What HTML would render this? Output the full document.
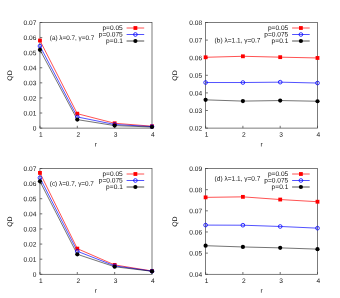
<!DOCTYPE html>
<html><head><meta charset="utf-8"><title>QD vs r</title>
<style>
html,body{margin:0;padding:0;background:#fff;}
svg{display:block;}
text{text-rendering:geometricPrecision;font-family:"Liberation Sans",sans-serif;font-size:6.6px;fill:#111;}
</style></head><body>
<svg width="340" height="298" viewBox="0 0 340 298">
<rect width="340" height="298" fill="#fff"/>
<rect x="39.95" y="22.5" width="112.05" height="105.60" fill="none" stroke="#444" stroke-width="0.7"/>
<path d="M39.95 128.10h2.3" stroke="#444" stroke-width="0.75"/>
<path d="M39.95 113.01h2.3" stroke="#444" stroke-width="0.75"/>
<path d="M39.95 97.93h2.3" stroke="#444" stroke-width="0.75"/>
<path d="M39.95 82.84h2.3" stroke="#444" stroke-width="0.75"/>
<path d="M39.95 67.76h2.3" stroke="#444" stroke-width="0.75"/>
<path d="M39.95 52.67h2.3" stroke="#444" stroke-width="0.75"/>
<path d="M39.95 37.59h2.3" stroke="#444" stroke-width="0.75"/>
<path d="M39.95 22.50h2.3" stroke="#444" stroke-width="0.75"/>
<path d="M39.95 128.1v-2.3" stroke="#444" stroke-width="0.75"/>
<path d="M77.30 128.1v-2.3" stroke="#444" stroke-width="0.75"/>
<path d="M114.65 128.1v-2.3" stroke="#444" stroke-width="0.75"/>
<path d="M152.00 128.1v-2.3" stroke="#444" stroke-width="0.75"/>
<polyline points="39.95,40.53 77.30,113.68 114.65,123.27 152.00,126.20" fill="none" stroke="#ff0000" stroke-width="0.68"/>
<polyline points="39.95,46.03 77.30,116.94 114.65,124.48 152.00,126.59" fill="none" stroke="#0000ff" stroke-width="0.68"/>
<polyline points="39.95,49.81 77.30,119.61 114.65,125.60 152.00,127.00" fill="none" stroke="#000000" stroke-width="0.55"/>
<rect x="38.05" y="38.63" width="3.8" height="3.8" fill="#ff0000"/>
<rect x="75.40" y="111.78" width="3.8" height="3.8" fill="#ff0000"/>
<rect x="112.75" y="121.37" width="3.8" height="3.8" fill="#ff0000"/>
<rect x="150.10" y="124.30" width="3.8" height="3.8" fill="#ff0000"/>
<circle cx="39.95" cy="46.03" r="1.85" fill="none" stroke="#0000ff" stroke-width="0.8"/>
<circle cx="77.30" cy="116.94" r="1.85" fill="none" stroke="#0000ff" stroke-width="0.8"/>
<circle cx="114.65" cy="124.48" r="1.85" fill="none" stroke="#0000ff" stroke-width="0.8"/>
<circle cx="152.00" cy="126.59" r="1.85" fill="none" stroke="#0000ff" stroke-width="0.8"/>
<circle cx="39.95" cy="49.81" r="2.1" fill="#000"/>
<circle cx="77.30" cy="119.61" r="2.1" fill="#000"/>
<circle cx="114.65" cy="125.60" r="2.1" fill="#000"/>
<circle cx="152.00" cy="127.00" r="2.1" fill="#000"/>
<path d="M126.60 28.00H144.20" stroke="#ff0000" stroke-width="0.68"/>
<rect x="133.50" y="26.10" width="3.8" height="3.8" fill="#ff0000"/>
<path d="M126.60 34.50H144.20" stroke="#0000ff" stroke-width="0.68"/>
<circle cx="135.40" cy="34.50" r="1.85" fill="none" stroke="#0000ff" stroke-width="0.8"/>
<path d="M126.60 41.00H144.20" stroke="#000000" stroke-width="0.68"/>
<circle cx="135.40" cy="41.00" r="2.1" fill="#000"/>
<rect x="205.6" y="22.5" width="111.90" height="105.60" fill="none" stroke="#444" stroke-width="0.7"/>
<path d="M205.6 128.10h2.3" stroke="#444" stroke-width="0.75"/>
<path d="M205.6 110.50h2.3" stroke="#444" stroke-width="0.75"/>
<path d="M205.6 92.90h2.3" stroke="#444" stroke-width="0.75"/>
<path d="M205.6 75.30h2.3" stroke="#444" stroke-width="0.75"/>
<path d="M205.6 57.70h2.3" stroke="#444" stroke-width="0.75"/>
<path d="M205.6 40.10h2.3" stroke="#444" stroke-width="0.75"/>
<path d="M205.6 22.50h2.3" stroke="#444" stroke-width="0.75"/>
<path d="M205.60 128.1v-2.3" stroke="#444" stroke-width="0.75"/>
<path d="M242.90 128.1v-2.3" stroke="#444" stroke-width="0.75"/>
<path d="M280.20 128.1v-2.3" stroke="#444" stroke-width="0.75"/>
<path d="M317.50 128.1v-2.3" stroke="#444" stroke-width="0.75"/>
<polyline points="205.60,57.28 242.90,56.29 280.20,57.17 317.50,57.96" fill="none" stroke="#ff0000" stroke-width="0.68"/>
<polyline points="205.60,82.52 242.90,82.52 280.20,82.16 317.50,83.04" fill="none" stroke="#0000ff" stroke-width="0.68"/>
<polyline points="205.60,99.85 242.90,101.10 280.20,100.56 317.50,101.24" fill="none" stroke="#000000" stroke-width="0.55"/>
<rect x="203.70" y="55.38" width="3.8" height="3.8" fill="#ff0000"/>
<rect x="241.00" y="54.39" width="3.8" height="3.8" fill="#ff0000"/>
<rect x="278.30" y="55.27" width="3.8" height="3.8" fill="#ff0000"/>
<rect x="315.60" y="56.06" width="3.8" height="3.8" fill="#ff0000"/>
<circle cx="205.60" cy="82.52" r="1.85" fill="none" stroke="#0000ff" stroke-width="0.8"/>
<circle cx="242.90" cy="82.52" r="1.85" fill="none" stroke="#0000ff" stroke-width="0.8"/>
<circle cx="280.20" cy="82.16" r="1.85" fill="none" stroke="#0000ff" stroke-width="0.8"/>
<circle cx="317.50" cy="83.04" r="1.85" fill="none" stroke="#0000ff" stroke-width="0.8"/>
<circle cx="205.60" cy="99.85" r="2.1" fill="#000"/>
<circle cx="242.90" cy="101.10" r="2.1" fill="#000"/>
<circle cx="280.20" cy="100.56" r="2.1" fill="#000"/>
<circle cx="317.50" cy="101.24" r="2.1" fill="#000"/>
<path d="M292.10 28.00H309.70" stroke="#ff0000" stroke-width="0.68"/>
<rect x="299.00" y="26.10" width="3.8" height="3.8" fill="#ff0000"/>
<path d="M292.10 34.50H309.70" stroke="#0000ff" stroke-width="0.68"/>
<circle cx="300.90" cy="34.50" r="1.85" fill="none" stroke="#0000ff" stroke-width="0.8"/>
<path d="M292.10 41.00H309.70" stroke="#000000" stroke-width="0.68"/>
<circle cx="300.90" cy="41.00" r="2.1" fill="#000"/>
<rect x="39.95" y="168.5" width="112.05" height="105.80" fill="none" stroke="#444" stroke-width="0.7"/>
<path d="M39.95 274.30h2.3" stroke="#444" stroke-width="0.75"/>
<path d="M39.95 259.19h2.3" stroke="#444" stroke-width="0.75"/>
<path d="M39.95 244.07h2.3" stroke="#444" stroke-width="0.75"/>
<path d="M39.95 228.96h2.3" stroke="#444" stroke-width="0.75"/>
<path d="M39.95 213.84h2.3" stroke="#444" stroke-width="0.75"/>
<path d="M39.95 198.73h2.3" stroke="#444" stroke-width="0.75"/>
<path d="M39.95 183.61h2.3" stroke="#444" stroke-width="0.75"/>
<path d="M39.95 168.50h2.3" stroke="#444" stroke-width="0.75"/>
<path d="M39.95 274.3v-2.3" stroke="#444" stroke-width="0.75"/>
<path d="M77.30 274.3v-2.3" stroke="#444" stroke-width="0.75"/>
<path d="M114.65 274.3v-2.3" stroke="#444" stroke-width="0.75"/>
<path d="M152.00 274.3v-2.3" stroke="#444" stroke-width="0.75"/>
<polyline points="39.95,172.88 77.30,248.61 114.65,264.93 152.00,270.97" fill="none" stroke="#ff0000" stroke-width="0.68"/>
<polyline points="39.95,177.78 77.30,251.27 114.65,265.84 152.00,271.13" fill="none" stroke="#0000ff" stroke-width="0.68"/>
<polyline points="39.95,181.35 77.30,254.30 114.65,266.74 152.00,271.31" fill="none" stroke="#000000" stroke-width="0.55"/>
<rect x="38.05" y="170.98" width="3.8" height="3.8" fill="#ff0000"/>
<rect x="75.40" y="246.71" width="3.8" height="3.8" fill="#ff0000"/>
<rect x="112.75" y="263.03" width="3.8" height="3.8" fill="#ff0000"/>
<rect x="150.10" y="269.07" width="3.8" height="3.8" fill="#ff0000"/>
<circle cx="39.95" cy="177.78" r="1.85" fill="none" stroke="#0000ff" stroke-width="0.8"/>
<circle cx="77.30" cy="251.27" r="1.85" fill="none" stroke="#0000ff" stroke-width="0.8"/>
<circle cx="114.65" cy="265.84" r="1.85" fill="none" stroke="#0000ff" stroke-width="0.8"/>
<circle cx="152.00" cy="271.13" r="1.85" fill="none" stroke="#0000ff" stroke-width="0.8"/>
<circle cx="39.95" cy="181.35" r="2.1" fill="#000"/>
<circle cx="77.30" cy="254.30" r="2.1" fill="#000"/>
<circle cx="114.65" cy="266.74" r="2.1" fill="#000"/>
<circle cx="152.00" cy="271.31" r="2.1" fill="#000"/>
<path d="M126.60 174.00H144.20" stroke="#ff0000" stroke-width="0.68"/>
<rect x="133.50" y="172.10" width="3.8" height="3.8" fill="#ff0000"/>
<path d="M126.60 180.50H144.20" stroke="#0000ff" stroke-width="0.68"/>
<circle cx="135.40" cy="180.50" r="1.85" fill="none" stroke="#0000ff" stroke-width="0.8"/>
<path d="M126.60 187.00H144.20" stroke="#000000" stroke-width="0.68"/>
<circle cx="135.40" cy="187.00" r="2.1" fill="#000"/>
<rect x="205.6" y="168.5" width="111.90" height="105.80" fill="none" stroke="#444" stroke-width="0.7"/>
<path d="M205.6 274.30h2.3" stroke="#444" stroke-width="0.75"/>
<path d="M205.6 253.14h2.3" stroke="#444" stroke-width="0.75"/>
<path d="M205.6 231.98h2.3" stroke="#444" stroke-width="0.75"/>
<path d="M205.6 210.82h2.3" stroke="#444" stroke-width="0.75"/>
<path d="M205.6 189.66h2.3" stroke="#444" stroke-width="0.75"/>
<path d="M205.6 168.50h2.3" stroke="#444" stroke-width="0.75"/>
<path d="M205.60 274.3v-2.3" stroke="#444" stroke-width="0.75"/>
<path d="M242.90 274.3v-2.3" stroke="#444" stroke-width="0.75"/>
<path d="M280.20 274.3v-2.3" stroke="#444" stroke-width="0.75"/>
<path d="M317.50 274.3v-2.3" stroke="#444" stroke-width="0.75"/>
<polyline points="205.60,197.36 242.90,196.85 280.20,199.54 317.50,201.72" fill="none" stroke="#ff0000" stroke-width="0.68"/>
<polyline points="205.60,225.10 242.90,225.21 280.20,226.48 317.50,228.17" fill="none" stroke="#0000ff" stroke-width="0.68"/>
<polyline points="205.60,245.69 242.90,246.96 280.20,247.87 317.50,249.14" fill="none" stroke="#000000" stroke-width="0.55"/>
<rect x="203.70" y="195.46" width="3.8" height="3.8" fill="#ff0000"/>
<rect x="241.00" y="194.95" width="3.8" height="3.8" fill="#ff0000"/>
<rect x="278.30" y="197.64" width="3.8" height="3.8" fill="#ff0000"/>
<rect x="315.60" y="199.82" width="3.8" height="3.8" fill="#ff0000"/>
<circle cx="205.60" cy="225.10" r="1.85" fill="none" stroke="#0000ff" stroke-width="0.8"/>
<circle cx="242.90" cy="225.21" r="1.85" fill="none" stroke="#0000ff" stroke-width="0.8"/>
<circle cx="280.20" cy="226.48" r="1.85" fill="none" stroke="#0000ff" stroke-width="0.8"/>
<circle cx="317.50" cy="228.17" r="1.85" fill="none" stroke="#0000ff" stroke-width="0.8"/>
<circle cx="205.60" cy="245.69" r="2.1" fill="#000"/>
<circle cx="242.90" cy="246.96" r="2.1" fill="#000"/>
<circle cx="280.20" cy="247.87" r="2.1" fill="#000"/>
<circle cx="317.50" cy="249.14" r="2.1" fill="#000"/>
<path d="M292.10 174.00H309.70" stroke="#ff0000" stroke-width="0.68"/>
<rect x="299.00" y="172.10" width="3.8" height="3.8" fill="#ff0000"/>
<path d="M292.10 180.50H309.70" stroke="#0000ff" stroke-width="0.68"/>
<circle cx="300.90" cy="180.50" r="1.85" fill="none" stroke="#0000ff" stroke-width="0.8"/>
<path d="M292.10 187.00H309.70" stroke="#000000" stroke-width="0.68"/>
<circle cx="300.90" cy="187.00" r="2.1" fill="#000"/>
<g style="filter:grayscale(1)">
<text x="36.45" y="130.60" text-anchor="end" transform="rotate(0.04 36.45 130.60)">0</text>
<text x="36.45" y="115.51" text-anchor="end" transform="rotate(0.04 36.45 115.51)">0.01</text>
<text x="36.45" y="100.43" text-anchor="end" transform="rotate(0.04 36.45 100.43)">0.02</text>
<text x="36.45" y="85.34" text-anchor="end" transform="rotate(0.04 36.45 85.34)">0.03</text>
<text x="36.45" y="70.26" text-anchor="end" transform="rotate(0.04 36.45 70.26)">0.04</text>
<text x="36.45" y="55.17" text-anchor="end" transform="rotate(0.04 36.45 55.17)">0.05</text>
<text x="36.45" y="40.09" text-anchor="end" transform="rotate(0.04 36.45 40.09)">0.06</text>
<text x="36.45" y="25.00" text-anchor="end" transform="rotate(0.04 36.45 25.00)">0.07</text>
<text x="40.90" y="136.70" text-anchor="middle" transform="rotate(0.04 40.90 136.70)">1</text>
<text x="78.25" y="136.70" text-anchor="middle" transform="rotate(0.04 78.25 136.70)">2</text>
<text x="115.60" y="136.70" text-anchor="middle" transform="rotate(0.04 115.60 136.70)">3</text>
<text x="152.95" y="136.70" text-anchor="middle" transform="rotate(0.04 152.95 136.70)">4</text>
<text x="95.97" y="146.60" text-anchor="middle" transform="rotate(0.04 95.97 146.60)">r</text>
<text transform="translate(11.65 75.50) rotate(-90)" text-anchor="middle" textLength="10.4" lengthAdjust="spacingAndGlyphs">QD</text>
<text x="49.80" y="39.95" textLength="44.5" lengthAdjust="spacingAndGlyphs" transform="rotate(0.04 49.80 39.95)">(a) λ=0.7, γ=0.7</text>
<text x="122.80" y="30.00" text-anchor="end" transform="rotate(0.04 122.80 30.00)">p=0.05</text>
<text x="122.80" y="36.50" text-anchor="end" transform="rotate(0.04 122.80 36.50)">p=0.075</text>
<text x="122.80" y="43.00" text-anchor="end" transform="rotate(0.04 122.80 43.00)">p=0.1</text>
<text x="202.10" y="130.60" text-anchor="end" transform="rotate(0.04 202.10 130.60)">0.02</text>
<text x="202.10" y="113.00" text-anchor="end" transform="rotate(0.04 202.10 113.00)">0.03</text>
<text x="202.10" y="95.40" text-anchor="end" transform="rotate(0.04 202.10 95.40)">0.04</text>
<text x="202.10" y="77.80" text-anchor="end" transform="rotate(0.04 202.10 77.80)">0.05</text>
<text x="202.10" y="60.20" text-anchor="end" transform="rotate(0.04 202.10 60.20)">0.06</text>
<text x="202.10" y="42.60" text-anchor="end" transform="rotate(0.04 202.10 42.60)">0.07</text>
<text x="202.10" y="25.00" text-anchor="end" transform="rotate(0.04 202.10 25.00)">0.08</text>
<text x="206.55" y="136.70" text-anchor="middle" transform="rotate(0.04 206.55 136.70)">1</text>
<text x="243.85" y="136.70" text-anchor="middle" transform="rotate(0.04 243.85 136.70)">2</text>
<text x="281.15" y="136.70" text-anchor="middle" transform="rotate(0.04 281.15 136.70)">3</text>
<text x="318.45" y="136.70" text-anchor="middle" transform="rotate(0.04 318.45 136.70)">4</text>
<text x="261.55" y="146.60" text-anchor="middle" transform="rotate(0.04 261.55 146.60)">r</text>
<text transform="translate(177.30 75.50) rotate(-90)" text-anchor="middle" textLength="10.4" lengthAdjust="spacingAndGlyphs">QD</text>
<text x="214.60" y="42.45" textLength="45.8" lengthAdjust="spacingAndGlyphs" transform="rotate(0.04 214.60 42.45)">(b) λ=1.1, γ=0.7</text>
<text x="288.30" y="30.00" text-anchor="end" transform="rotate(0.04 288.30 30.00)">p=0.05</text>
<text x="288.30" y="36.50" text-anchor="end" transform="rotate(0.04 288.30 36.50)">p=0.075</text>
<text x="288.30" y="43.00" text-anchor="end" transform="rotate(0.04 288.30 43.00)">p=0.1</text>
<text x="36.45" y="276.80" text-anchor="end" transform="rotate(0.04 36.45 276.80)">0</text>
<text x="36.45" y="261.69" text-anchor="end" transform="rotate(0.04 36.45 261.69)">0.01</text>
<text x="36.45" y="246.57" text-anchor="end" transform="rotate(0.04 36.45 246.57)">0.02</text>
<text x="36.45" y="231.46" text-anchor="end" transform="rotate(0.04 36.45 231.46)">0.03</text>
<text x="36.45" y="216.34" text-anchor="end" transform="rotate(0.04 36.45 216.34)">0.04</text>
<text x="36.45" y="201.23" text-anchor="end" transform="rotate(0.04 36.45 201.23)">0.05</text>
<text x="36.45" y="186.11" text-anchor="end" transform="rotate(0.04 36.45 186.11)">0.06</text>
<text x="36.45" y="171.00" text-anchor="end" transform="rotate(0.04 36.45 171.00)">0.07</text>
<text x="40.90" y="282.90" text-anchor="middle" transform="rotate(0.04 40.90 282.90)">1</text>
<text x="78.25" y="282.90" text-anchor="middle" transform="rotate(0.04 78.25 282.90)">2</text>
<text x="115.60" y="282.90" text-anchor="middle" transform="rotate(0.04 115.60 282.90)">3</text>
<text x="152.95" y="282.90" text-anchor="middle" transform="rotate(0.04 152.95 282.90)">4</text>
<text x="95.97" y="292.80" text-anchor="middle" transform="rotate(0.04 95.97 292.80)">r</text>
<text transform="translate(11.65 221.60) rotate(-90)" text-anchor="middle" textLength="10.4" lengthAdjust="spacingAndGlyphs">QD</text>
<text x="49.80" y="185.65" textLength="44.1" lengthAdjust="spacingAndGlyphs" transform="rotate(0.04 49.80 185.65)">(c) λ=0.7, γ=0.7</text>
<text x="122.80" y="176.00" text-anchor="end" transform="rotate(0.04 122.80 176.00)">p=0.05</text>
<text x="122.80" y="182.50" text-anchor="end" transform="rotate(0.04 122.80 182.50)">p=0.075</text>
<text x="122.80" y="189.00" text-anchor="end" transform="rotate(0.04 122.80 189.00)">p=0.1</text>
<text x="202.10" y="276.80" text-anchor="end" transform="rotate(0.04 202.10 276.80)">0.04</text>
<text x="202.10" y="255.64" text-anchor="end" transform="rotate(0.04 202.10 255.64)">0.05</text>
<text x="202.10" y="234.48" text-anchor="end" transform="rotate(0.04 202.10 234.48)">0.06</text>
<text x="202.10" y="213.32" text-anchor="end" transform="rotate(0.04 202.10 213.32)">0.07</text>
<text x="202.10" y="192.16" text-anchor="end" transform="rotate(0.04 202.10 192.16)">0.08</text>
<text x="202.10" y="171.00" text-anchor="end" transform="rotate(0.04 202.10 171.00)">0.09</text>
<text x="206.55" y="282.90" text-anchor="middle" transform="rotate(0.04 206.55 282.90)">1</text>
<text x="243.85" y="282.90" text-anchor="middle" transform="rotate(0.04 243.85 282.90)">2</text>
<text x="281.15" y="282.90" text-anchor="middle" transform="rotate(0.04 281.15 282.90)">3</text>
<text x="318.45" y="282.90" text-anchor="middle" transform="rotate(0.04 318.45 282.90)">4</text>
<text x="261.55" y="292.80" text-anchor="middle" transform="rotate(0.04 261.55 292.80)">r</text>
<text transform="translate(177.30 221.60) rotate(-90)" text-anchor="middle" textLength="10.4" lengthAdjust="spacingAndGlyphs">QD</text>
<text x="214.60" y="180.65" textLength="45.8" lengthAdjust="spacingAndGlyphs" transform="rotate(0.04 214.60 180.65)">(d) λ=1.1, γ=0.7</text>
<text x="288.30" y="176.00" text-anchor="end" transform="rotate(0.04 288.30 176.00)">p=0.05</text>
<text x="288.30" y="182.50" text-anchor="end" transform="rotate(0.04 288.30 182.50)">p=0.075</text>
<text x="288.30" y="189.00" text-anchor="end" transform="rotate(0.04 288.30 189.00)">p=0.1</text>
</g>
</svg>
</body></html>
